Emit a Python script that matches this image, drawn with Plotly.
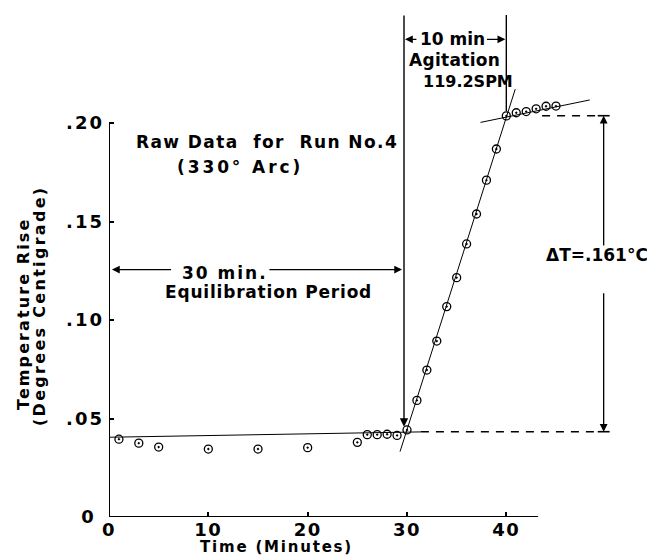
import plotly.graph_objects as go

# ---------------- data ----------------
t_equil = [1, 3, 5, 10, 15, 20, 25, 26, 27, 28, 29]
T_equil = [0.0395, 0.0375, 0.0355, 0.0345, 0.0345, 0.0352, 0.0379, 0.0418, 0.0418, 0.0420, 0.0414]

t_agit = [30, 31, 32, 33, 34, 35, 36, 37, 38, 39, 40]
T_agit = [0.0442, 0.0592, 0.0746, 0.0893, 0.1068, 0.1215, 0.1386, 0.1538, 0.1710, 0.1868, 0.2036]

t_after = [41, 42, 43, 44, 45]
T_after = [0.2052, 0.2058, 0.2072, 0.2085, 0.2086]

# hand-drawn fit lines (end points)
base_fit_t = [0.1, 31.4]
base_fit_T = [0.0405, 0.0432]
rise_fit_t = [29.3, 40.9]
rise_fit_T = [0.0332, 0.2172]
plat_fit_t = [37.4, 48.4]
plat_fit_T = [0.2003, 0.2117]

# reference levels
agit_start = 29.7
agit_end = 40.0
baseline_T = 0.0433
final_T = 0.2037
delta_x = 49.8

x_ticks = [0, 10, 20, 30, 40]
x_ticklabels = ["0", "10", "20", "30", "40"]
y_ticks = [0, 0.05, 0.10, 0.15, 0.20]
y_ticklabels = ["0\u00a0", ".05", ".10", ".15", ".20"]

x_axis_end = 43.2
y_axis_end = 0.20

# ---------------- layout geometry ----------------
W, H = 647, 558
ML, MR, MT, MB = 109, 2, 13, 41
PX_PER_MIN = 9.933
PX_PER_DEG = 1970.0
x_max = (W - ML - MR) / PX_PER_MIN
y_max = (H - MT - MB) / PX_PER_DEG

FONT = "DejaVu Sans"


def sp(text, ls):
    return f'<span style="letter-spacing:{ls}px">{text}</span>'


fig = go.Figure()

# axis lines
fig.add_trace(go.Scatter(x=[0, x_axis_end], y=[0, 0], mode="lines",
                         line=dict(color="black", width=2), hoverinfo="skip", showlegend=False))
fig.add_trace(go.Scatter(x=[0, 0], y=[0, y_axis_end], mode="lines",
                         line=dict(color="black", width=2), hoverinfo="skip", showlegend=False))

# fit lines
for xs, ys in [(base_fit_t, base_fit_T), (rise_fit_t, rise_fit_T), (plat_fit_t, plat_fit_T)]:
    fig.add_trace(go.Scatter(x=xs, y=ys, mode="lines", line=dict(color="black", width=1),
                             hoverinfo="skip", showlegend=False))

# dashed reference lines
fig.add_trace(go.Scatter(x=[base_fit_t[1], delta_x - 0.6], y=[baseline_T, baseline_T], mode="lines",
                         line=dict(color="black", width=1.4, dash="8px,7px"), showlegend=False))
fig.add_trace(go.Scatter(x=[t_after[-1] - 1.4, delta_x - 0.6], y=[final_T, final_T], mode="lines",
                         line=dict(color="black", width=1.4, dash="8px,7px"), showlegend=False))
# end bars of delta-T
for lvl in [baseline_T, final_T]:
    fig.add_trace(go.Scatter(x=[delta_x - 0.6, delta_x + 0.6], y=[lvl, lvl], mode="lines",
                             line=dict(color="black", width=1.6), showlegend=False))

# vertical line at end of agitation
fig.add_trace(go.Scatter(x=[agit_end, agit_end], y=[y_max - 0.001, 0.206], mode="lines",
                         line=dict(color="black", width=1.4), showlegend=False))

# data points
fig.add_trace(go.Scatter(x=t_equil + t_agit + t_after, y=T_equil + T_agit + T_after,
                         mode="markers",
                         marker=dict(symbol="circle-open-dot", size=8, color="black",
                                     line=dict(color="black", width=1.3)),
                         showlegend=False))

ann = []


def arrow(tip_x, tip_y, tail_x, tail_y, w=1.3):
    ann.append(dict(x=tip_x, y=tip_y, ax=tail_x, ay=tail_y, xref="x", yref="y",
                    axref="x", ayref="y", showarrow=True, arrowhead=2, arrowsize=1.2,
                    arrowwidth=w, arrowcolor="black", text=""))


def label(x, y, text, size=17, ls=0, angle=0, ref="data"):
    xr, yr = ("x", "y") if ref == "data" else ("paper", "paper")
    ann.append(dict(x=x, y=y, xref=xr, yref=yr, showarrow=False, text=sp(text, ls),
                    font=dict(family=FONT, size=size, color="black", weight="bold"),
                    xanchor="center", yanchor="middle", textangle=angle))


# start-of-agitation vertical line with arrow
arrow(agit_start, 0.0458, agit_start, y_max - 0.0005, w=1.4)
# 30 min arrows
arrow(0.3, 0.1256, 6.4, 0.1256)
arrow(29.5, 0.1256, 16.0, 0.1256)
# 10 min arrows
arrow(agit_start + 0.1, 0.2425, 31.1, 0.2425)
arrow(agit_end - 0.1, 0.2425, 37.9, 0.2425)
# delta-T arrows
arrow(delta_x, final_T, delta_x, 0.137)
arrow(delta_x, baseline_T, delta_x, 0.1144)

label(15.9, 0.1905, "Raw Data&nbsp; for&nbsp; Run No.4", 17, 1.4)
label(13.2, 0.1778, "(330° Arc)", 17, 2.9)
label(11.7, 0.1239, "30 min.", 17, 2.0)
label(16.1, 0.1144, "Equilibration Period", 17, 0.8)
label(34.6, 0.2425, "10 min", 17, 0)
label(34.8, 0.2320, "Agitation", 17, 0.3)
label(36.1, 0.2210, "119.2SPM", 16, 0)
label(49.1, 0.1330, "ΔT=.161°C", 17, 0)

# axis titles (paper coordinates, outside the plot area)
PW, PH = W - ML - MR, H - MT - MB


def to_paper(px, py):
    return (px - ML) / PW, (H - MB - py) / PH


label(*to_paper(276.5, 547.0), "Time (Minutes)", 15, 1.8, ref="paper")
label(*to_paper(23, 314), "Temperature Rise", 16, 2.1, angle=-90, ref="paper")
label(*to_paper(40, 306), "(Degrees Centigrade)", 16, 2.3, angle=-90, ref="paper")

fig.update_layout(
    width=W, height=H,
    margin=dict(l=ML, r=MR, t=MT, b=MB, pad=0),
    paper_bgcolor="white", plot_bgcolor="white",
    font=dict(family=FONT, size=17, color="black"),
    showlegend=False,
    annotations=ann,
    xaxis=dict(range=[0, x_max], showgrid=False, zeroline=False, showline=False,
               tickmode="array", tickvals=x_ticks,
               ticktext=[sp(t, 1.5) for t in x_ticklabels],
               ticks="inside", ticklen=5, tickwidth=1.5, tickcolor="black",
               tickfont=dict(family=FONT, size=18, color="black", weight="bold")),
    yaxis=dict(range=[0, y_max], showgrid=False, zeroline=False, showline=False,
               tickmode="array", tickvals=y_ticks,
               ticktext=[sp(t, 2) for t in y_ticklabels],
               ticks="inside", ticklen=5, tickwidth=1.5, tickcolor="black",
               ticklabelstandoff=4,
               tickfont=dict(family=FONT, size=18, color="black", weight="bold")),
)

fig.write_html("out.html")
